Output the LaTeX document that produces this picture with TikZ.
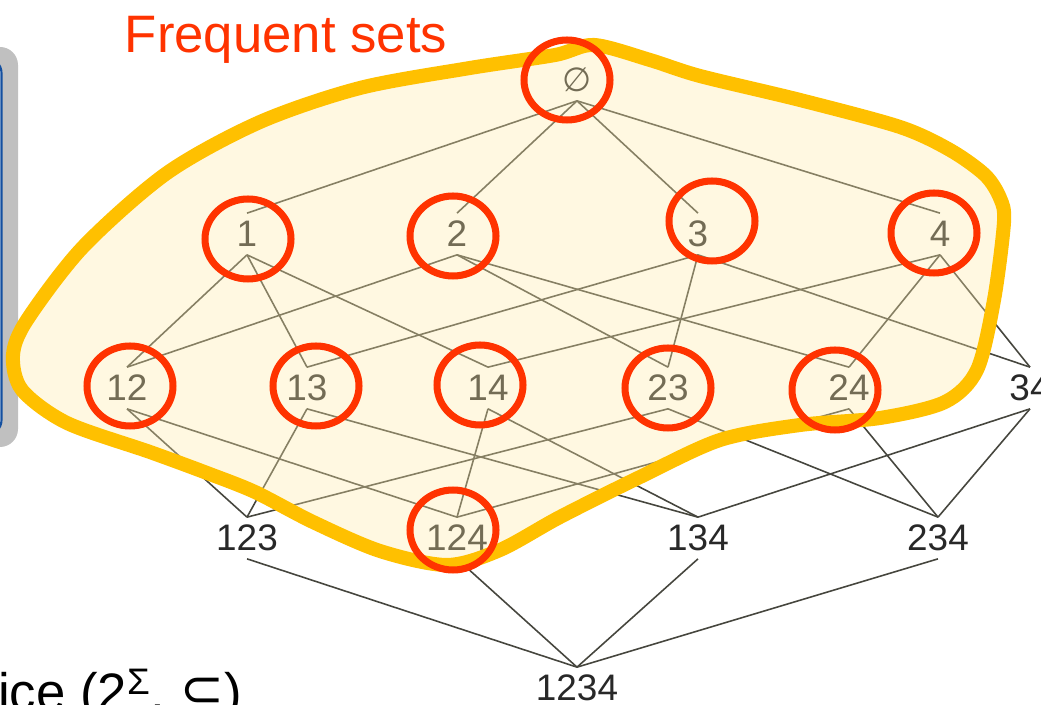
\documentclass[tikz,border=0pt]{standalone}
\usepackage{fontspec}
\setmainfont{Liberation Sans}
\newfontfamily\symbolfont{DejaVu Sans}
\definecolor{latline}{RGB}{70,70,62}
\definecolor{lattext}{RGB}{40,40,40}
\definecolor{ringred}{RGB}{255,51,0}
\definecolor{blobgold}{RGB}{255,192,0}
\definecolor{blobfill}{RGB}{255,235,169}
\definecolor{boxgray}{RGB}{192,192,192}
\definecolor{boxblue}{RGB}{20,80,160}
\tikzset{
  setnode/.style={inner sep=0pt, minimum height=0.82cm,
    text=lattext, font=\fontsize{21}{24}\selectfont},
  hasse/.style={draw=latline, line width=0.9pt},
  ring/.style={draw=ringred, line width=4pt},
  bigtext/.style={font=\fontsize{30}{36}\selectfont, inner sep=0pt}
}

\begin{document}
\begin{tikzpicture}[x=0.02cm, y=-0.02cm]
\useasboundingbox (0,0) rectangle (1041,705);
\clip (0,0) rectangle (1041,705);
% box at the left edge
\fill[boxgray, rounded corners=0.36cm] (-60,47) rectangle (18,447);
\draw[boxblue, line width=1.2pt, fill=white, rounded corners=0.3cm] (-60,58) rectangle (1.5,435);
% subset lattice
\node[setnode, font=\symbolfont\fontsize{19}{22}\selectfont] (e) at (577,80) {∅};
\node[setnode] (s1) at (247,234) {1};
\node[setnode] (s2) at (457,234) {2};
\node[setnode] (s3) at (698,234) {3};
\node[setnode] (s4) at (940,234) {4};
\node[setnode] (s12) at (127,388) {12};
\node[setnode] (s13) at (307,388) {13};
\node[setnode] (s14) at (488,388) {14};
\node[setnode] (s23) at (668,388) {23};
\node[setnode] (s24) at (849,388) {24};
\node[setnode] (s34) at (1030,388) {34};
\node[setnode] (s123) at (247,538) {123};
\node[setnode] (s124) at (457,538) {124};
\node[setnode] (s134) at (698,538) {134};
\node[setnode] (s234) at (938,538) {234};
\node[setnode] (s1234) at (577,688) {1234};
\foreach \a/\b in {e/s1, e/s2, e/s3, e/s4,
    s1/s12, s1/s13, s1/s14, s2/s12, s2/s23, s2/s24,
    s3/s13, s3/s23, s3/s34, s4/s14, s4/s24, s4/s34,
    s12/s123, s12/s124, s13/s123, s13/s134, s14/s124, s14/s134,
    s23/s123, s23/s234, s24/s124, s24/s234, s34/s134, s34/s234,
    s123/s1234, s124/s1234, s134/s1234, s234/s1234}
  \draw[hasse] (\a.south) -- (\b.north);
% frequent region
\draw[blobgold, line width=8pt, fill=blobfill, fill opacity=0.35]
  plot[smooth cycle, tension=0.5] coordinates {
    (260,122) (360,88) (470,68) (555,55) (594,45) (650,60) (700,76)
    (800,100) (900,127) (950,150) (985,175) (1000,198) (1004,222)
    (994,300) (977,370) (945,402) (880,418) (800,425) (720,440)
    (640,477) (560,517) (500,550) (447,565) (380,551) (313,522)
    (255,492) (207,473) (150,452) (67,423) (22,390) (13,355) (27,320)
    (83,247) (167,173)};
% frequent sets
\foreach \cx/\cy in {567/80, 248/239, 453/236, 712/221, 934/233,
    130/386, 316/386, 480/385, 668/388, 835/390, 453/530}
  \draw[ring] (\cx,\cy) ellipse [x radius=0.86cm, y radius=0.8cm];
\node[bigtext, text=ringred, anchor=base] (title) at (286,53) {Frequent sets};
\node[bigtext, anchor=base west] (caption) at (-90,710)
  {Lattice (2\textsuperscript{Σ}, {\symbolfont ⊆})};
\end{tikzpicture}
\end{document}
